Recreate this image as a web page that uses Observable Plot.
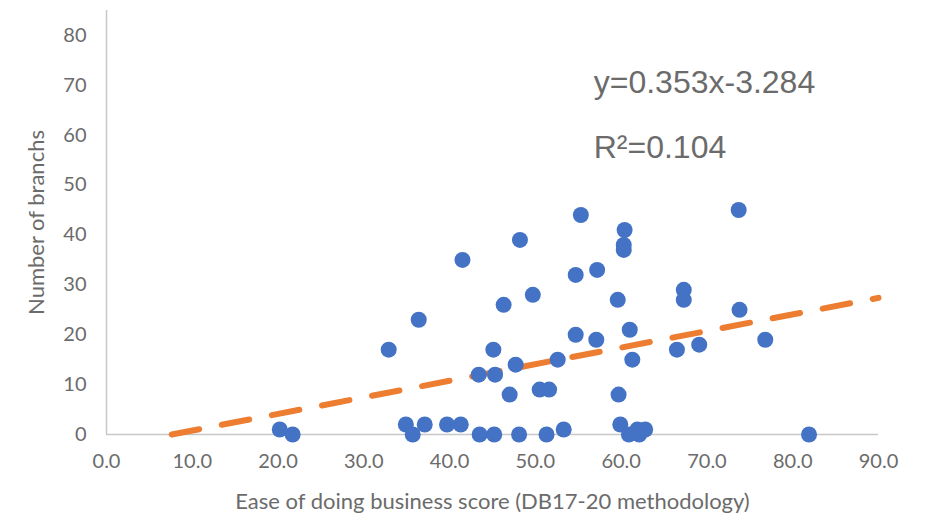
<!DOCTYPE html>
<html>
<head>
<meta charset="utf-8">
<script src="https://cdn.jsdelivr.net/npm/d3@7"></script>
<script src="https://cdn.jsdelivr.net/npm/@observablehq/plot@0.6"></script>
<style>
  html, body { margin: 0; padding: 0; background: #fff; }
  #chart { width: 925px; height: 515px; }
</style>
</head>
<body>
<div id="chart"></div>
<script>
// Ease of doing business score (x) and number of branches (y)
const scores = [20.2, 21.7, 32.9, 34.9, 35.7, 36.4, 37.1, 39.7, 41.3, 41.5,
  43.4, 43.5, 45.1, 45.3, 45.2, 46.3, 47.0, 47.7, 48.1, 48.2,
  49.7, 50.5, 51.6, 51.3, 52.6, 53.3, 54.7, 54.7, 55.3, 57.2,
  57.1, 59.6, 59.7, 59.9, 60.3, 60.3, 60.4, 61.0, 61.3, 60.9,
  61.9, 62.1, 62.8, 66.5, 67.3, 67.3, 69.1, 73.7, 73.8, 76.8, 81.9];
const branches = [1, 0, 17, 2, 0, 23, 2, 2, 2, 35,
  12, 0, 17, 12, 0, 26, 8, 14, 0, 39,
  28, 9, 9, 0, 15, 1, 32, 20, 44, 33,
  19, 27, 8, 2, 38, 37, 41, 21, 15, 0,
  1, 0, 1, 17, 29, 27, 18, 45, 25, 19, 0];
// Trendline endpoints as drawn in the chart
const trendX = [7.6, 90];
const trendY = [0, 27.4];
const xTicks = [0, 10, 20, 30, 40, 50, 60, 70, 80, 90];
const yTicks = [0, 10, 20, 30, 40, 50, 60, 70, 80];
const annotations = ["y=0.353x-3.284", "R²=0.104"];
const annX = [56.8, 56.8];
const annY = [68.5, 55.5];

const points = scores.map((s, i) => ({x: s, y: branches[i]}));
const trend = trendX.map((t, i) => ({x: t, y: trendY[i]}));
const notes = annotations.map((t, i) => ({text: t, x: annX[i], y: annY[i]}));

const font = "Lato, 'Open Sans', sans-serif";
const plot = Plot.plot({
  width: 925,
  height: 515,
  marginLeft: 106,
  marginRight: 47,
  marginTop: 10,
  marginBottom: 81,
  style: {fontFamily: font, background: "#fff", overflow: "visible"},
  x: {domain: [0, 90]},
  y: {domain: [0, 85]},
  marks: [
    Plot.axisX({ticks: xTicks, tickFormat: d3.format(".1f"), tickSize: 0, tickPadding: 19,
      fontSize: 20, color: "#6b6b6b",
      label: "Ease of doing business score (DB17-20 methodology)", labelAnchor: "center",
      labelArrow: "none", labelOffset: 74}),
    Plot.axisY({ticks: yTicks, tickSize: 0, tickPadding: 20, fontSize: 20, color: "#6b6b6b",
      label: "Number of branchs", labelAnchor: "center", labelArrow: "none", labelOffset: 78}),
    Plot.ruleX([0], {stroke: "#c8c8c8", strokeWidth: 1.5}),
    Plot.ruleY([0], {stroke: "#c8c8c8", strokeWidth: 1.5}),
    Plot.line(trend, {x: "x", y: "y", stroke: "#ED7D31", strokeWidth: 6, strokeDasharray: "28,23"}),
    Plot.dot(points, {x: "x", y: "y", r: 8, fill: "#4472C4", stroke: "none"}),
    Plot.text(notes, {x: "x", y: "y", text: "text", textAnchor: "start", lineAnchor: "bottom",
      fontSize: 32, fill: "#6b6b6b", fontFamily: "'Liberation Sans', Arial, sans-serif"})
  ]
});
plot.querySelectorAll("g[aria-label='x-axis label'] text, g[aria-label='y-axis label'] text")
  .forEach(t => { t.setAttribute("font-size", "22"); t.style.fontSize = "22px"; t.setAttribute("fill", "#6b6b6b"); });
document.getElementById("chart").appendChild(plot);
</script>
</body>
</html>
